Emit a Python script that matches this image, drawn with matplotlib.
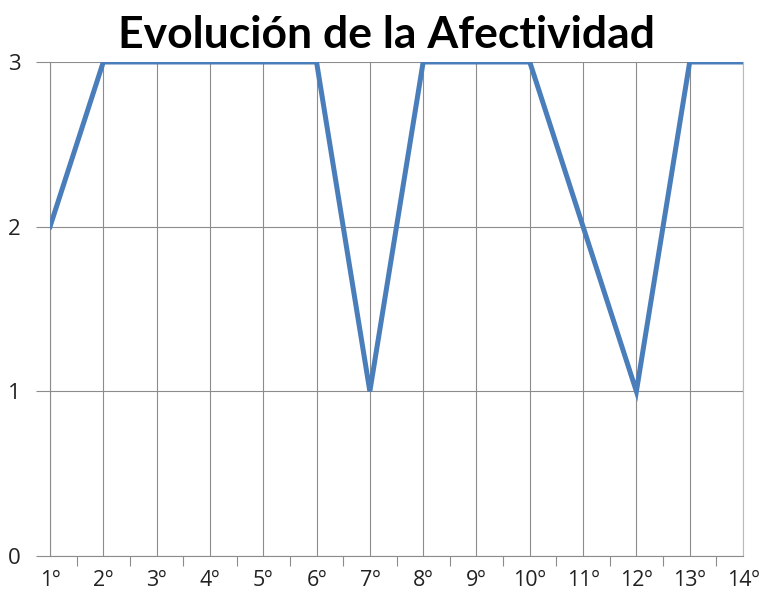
import matplotlib
matplotlib.use("Agg")
import matplotlib.pyplot as plt
import numpy as np

# data
etapas = ["1º", "2º", "3º", "4º", "5º", "6º", "7º", "8º", "9º", "10º", "11º", "12º", "13º", "14º"]
afectividad = [2, 3, 3, 3, 3, 3, 1, 3, 3, 3, 2, 1, 3, 3]
y_ticks = [0, 1, 2, 3]

LINE_COLOR = "#4A7EBB"
GRID_COLOR = "#8C8C8C"

fig = plt.figure(figsize=(7.63, 5.99), dpi=100)
ax = fig.add_axes([50 / 763, 43 / 599, 693 / 763, 494 / 599])

x = np.arange(len(etapas))
ax.plot(x, afectividad, color=LINE_COLOR, linewidth=3.6, solid_joinstyle="miter", zorder=3)

ax.set_xlim(0, len(etapas) - 1)
ax.set_ylim(0, 3)

ax.set_xticks(x)
ax.set_xticklabels(etapas, fontsize=15.5, family="Open Sans", color="#222222")
ax.set_xticks(x[:-1] + 0.5, minor=True)
ax.tick_params(axis="x", which="major", length=0, pad=10)
ax.tick_params(axis="x", which="minor", length=7, width=0.8, color=GRID_COLOR)

ax.set_yticks(y_ticks)
ax.set_yticklabels([str(v) for v in y_ticks], fontsize=16, family="Open Sans", color="#222222")
ax.tick_params(axis="y", length=10, width=0.8, color=GRID_COLOR, pad=11)

ax.grid(True, which="major", color=GRID_COLOR, linewidth=0.8)
ax.set_axisbelow(True)
for side in ["left", "bottom", "right"]:
    ax.spines[side].set_color(GRID_COLOR)
    ax.spines[side].set_linewidth(0.8)
ax.spines["top"].set_visible(False)
ax.spines["right"].set_color("#BBBBBB")

fig.text(0.507, 0.942, "Evolución de la Afectividad", ha="center", va="center",
         fontsize=32, fontweight="bold", family="Lato")

fig.savefig("out.png", dpi=100)
